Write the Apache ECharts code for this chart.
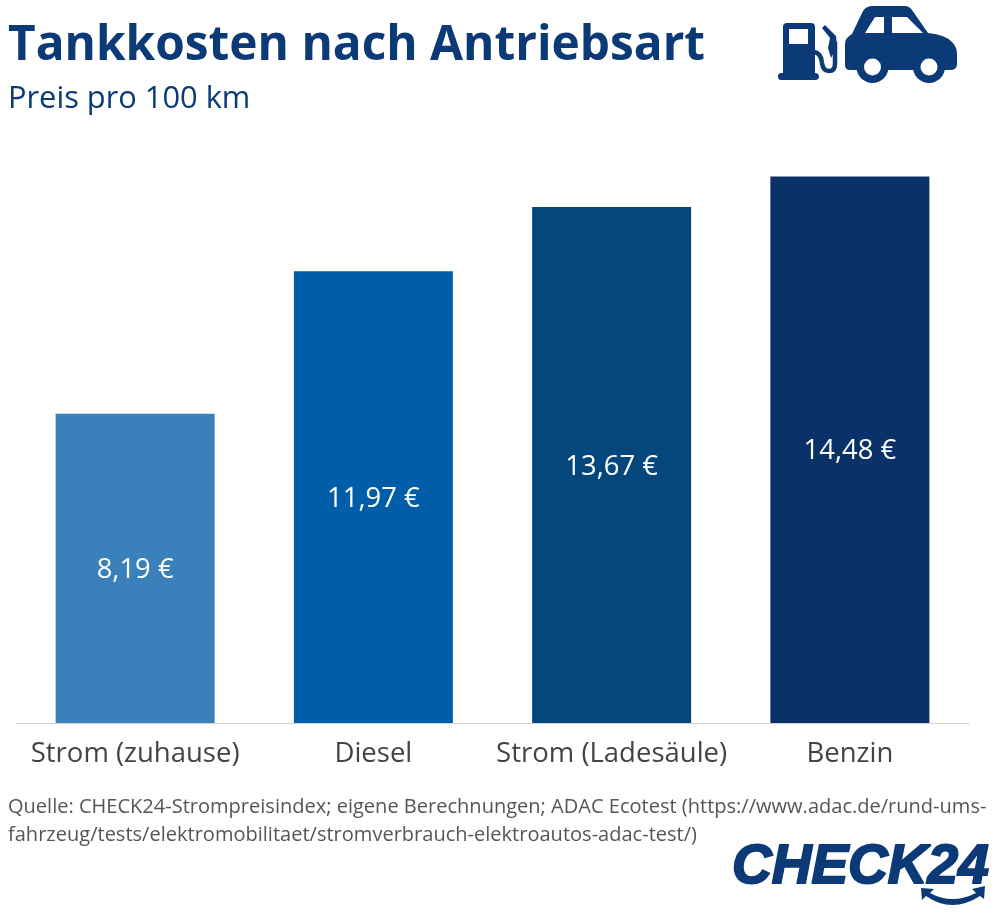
<!DOCTYPE html>
<html>
<head>
<meta charset="utf-8">
<title>Tankkosten nach Antriebsart</title>
<script src="https://cdn.jsdelivr.net/npm/echarts@6/dist/echarts.min.js"></script>
<style>
  html, body { margin: 0; padding: 0; background: #fff; }
  #chart { width: 1000px; height: 918px; }
</style>
</head>
<body>
<div id="chart"></div>
<script>
const categories = ['Strom (zuhause)', 'Diesel', 'Strom (Ladesäule)', 'Benzin'];
const prices = [8.19, 11.97, 13.67, 14.48];
const barColors = ['#3a80ba', '#005ea8', '#04477c', '#0a3268'];
const titleText = 'Tankkosten nach Antriebsart';
const subtitleText = 'Preis pro 100 km';
const sourceLines = [
    'Quelle: CHECK24-Strompreisindex; eigene Berechnungen; ADAC Ecotest (https://www.adac.de/rund-ums-',
    'fahrzeug/tests/elektromobilitaet/stromverbrauch-elektroautos-adac-test/)'
];

const navy = '#0b3a76';
const font = '"Open Sans", "Noto Sans", sans-serif';

// pump + car icon, page coordinates
const pumpPath = 'M787 23 L811 23 Q815 23 815 27 L815 73 L815 73 Q819 73 819 76.5 Q819 80 815 80 L781 80 Q778 80 778 76.5 Q778 73 781 73 L783 73 L783 27 Q783 23 787 23 Z M789 29 L789 44 L808 44 L808 29 Z';
const hosePath = 'M835 42 L835 64 Q835 71 829 71 Q823 71 822 63 Q821 53 814 52';
const nozzlePath = 'M822 28 L825 25 L836 36 L837 46 L831 58 L828 48 L830 38 Z';
const carPath = 'M872 6 L905 6 Q909 6 912 10 L928 33 Q946 35 952 42 Q957 47 957 54 L957 64 Q957 70 950 70 L850 70 Q845 70 845 65 L845 44 Q845 38 852 34 L862 13 Q865 6 872 6 Z M865 33 L884 33 L884 17 L875 17 Z M892 33 L923 33 L907 17 L892 17 Z';
const smilePath = 'M921 888 L934 889 L930 893 Q952 905 976 893 L972 889 L985 886 L984 899 L980 896 Q952 914 926 896 L922 900 Z';

echarts.graphic.registerShape('pumpIcon', echarts.graphic.extendPath(pumpPath, {}));
echarts.graphic.registerShape('hoseIcon', echarts.graphic.extendPath(hosePath, {}));
echarts.graphic.registerShape('nozzleIcon', echarts.graphic.extendPath(nozzlePath, {}));
echarts.graphic.registerShape('carIcon', echarts.graphic.extendPath(carPath, {}));
echarts.graphic.registerShape('smileIcon', echarts.graphic.extendPath(smilePath, {}));

const chart = echarts.init(document.getElementById('chart'), null, { renderer: 'canvas' });

const option = {
    animation: false,
    backgroundColor: '#ffffff',
    title: [
        {
            text: titleText, left: 3, top: 17,
            textStyle: { fontFamily: font, fontSize: 47.8, fontWeight: 'bold', color: navy }
        },
        {
            text: subtitleText, left: 3, top: 79,
            textStyle: { fontFamily: font, fontSize: 30.8, fontWeight: 'normal', color: navy }
        }
    ],
    grid: { left: 16, right: 31, top: 119, height: 604 },
    xAxis: {
        type: 'category',
        data: categories,
        axisTick: { show: false },
        axisLine: { lineStyle: { color: '#d4d4d4', width: 1 } },
        axisLabel: { interval: 0, fontFamily: font, fontSize: 27.5, color: '#444444', margin: 17 }
    },
    yAxis: { type: 'value', min: 0, max: 16, show: false },
    series: [{
        type: 'bar',
        barWidth: 159,
        data: prices.map((v, i) => ({ value: v, itemStyle: { color: barColors[i] } })),
        label: {
            show: true,
            position: 'inside',
            offset: [0, 2],
            fontFamily: font,
            fontSize: 27.4,
            color: '#ffffff',
            formatter: p => p.value.toFixed(2).replace('.', ',') + ' €'
        }
    }],
    graphic: [
        { type: 'pumpIcon', style: { fill: navy } },
        { type: 'nozzleIcon', style: { fill: navy } },
        { type: 'hoseIcon', style: { fill: 'none', stroke: navy, lineWidth: 4.5 } },
        { type: 'carIcon', style: { fill: navy } },
        { type: 'circle', shape: { cx: 872.5, cy: 67, r: 16 }, style: { fill: navy } },
        { type: 'circle', shape: { cx: 929, cy: 67, r: 16 }, style: { fill: navy } },
        { type: 'circle', shape: { cx: 872.5, cy: 67, r: 8.5 }, style: { fill: '#fff' } },
        { type: 'circle', shape: { cx: 929, cy: 67, r: 8.5 }, style: { fill: '#fff' } },
        { type: 'text', x: 8, y: 797, style: { text: sourceLines[0], fontFamily: font, fontSize: 20.05, fill: '#555555' } },
        { type: 'text', x: 8, y: 825, style: { text: sourceLines[1], fontFamily: font, fontSize: 20.05, fill: '#555555' } },
        {
            type: 'text', x: 732, y: 840,
            style: {
                text: 'CHECK24', fontFamily: '"Liberation Sans", sans-serif',
                fontSize: 55, fontWeight: 'bold', fontStyle: 'italic',
                fill: navy, stroke: navy, lineWidth: 2
            }
        },
        { type: 'smileIcon', style: { fill: navy } }
    ]
};

chart.setOption(option);
</script>
</body>
</html>
